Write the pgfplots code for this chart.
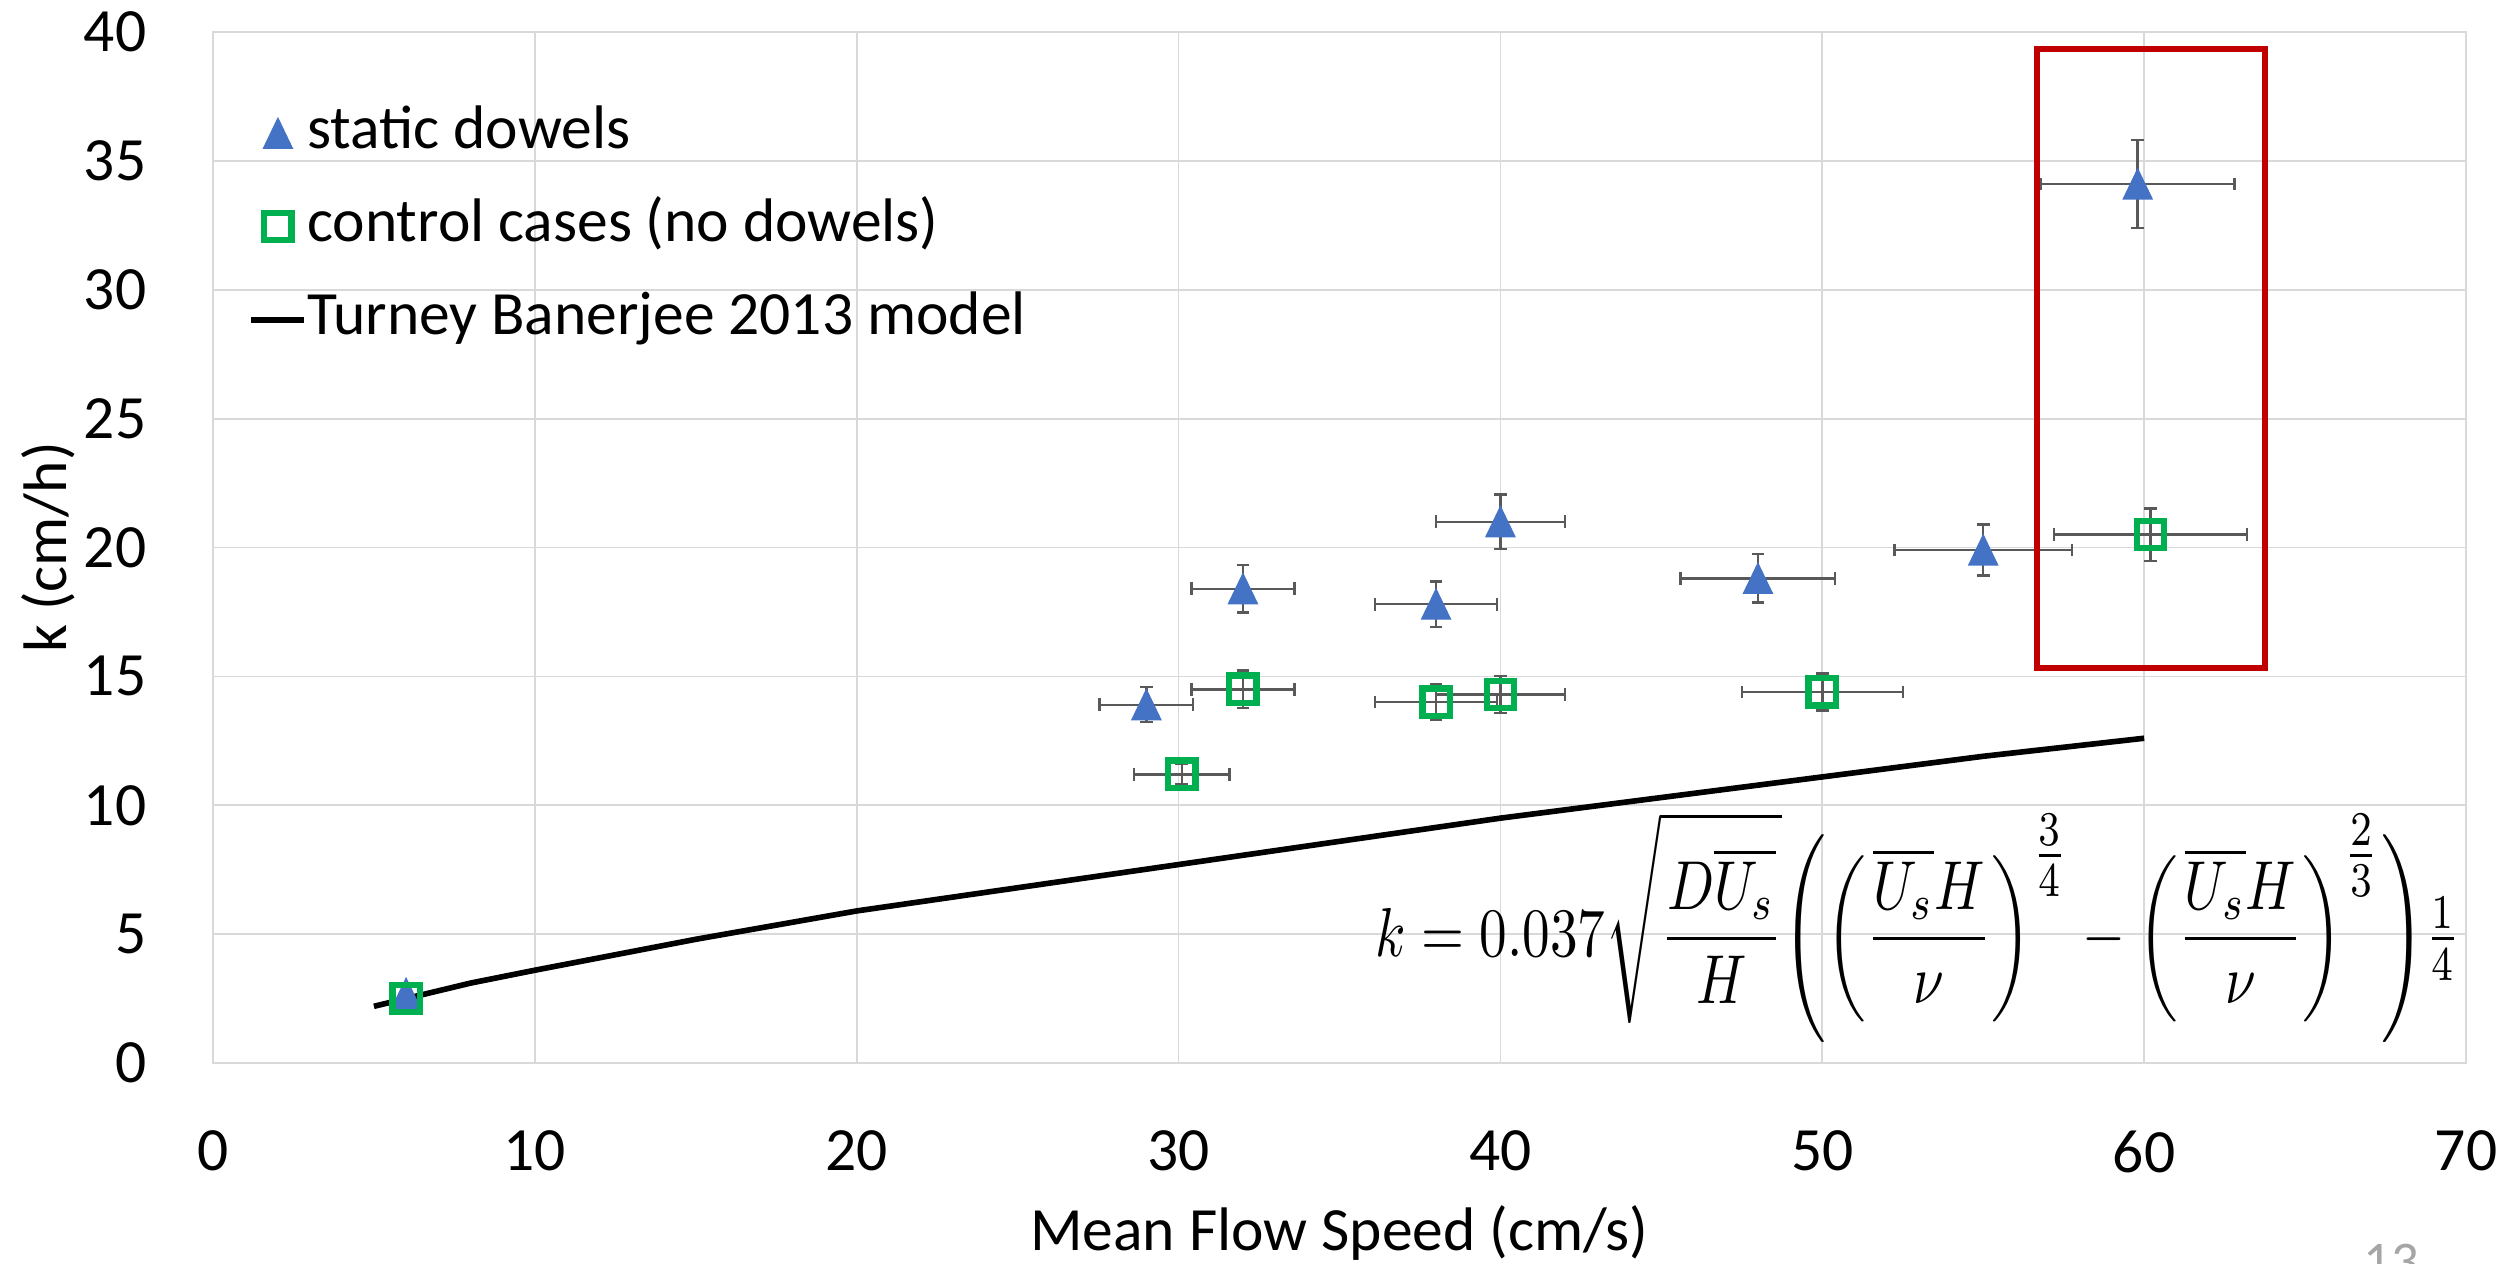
\documentclass[border=0pt]{standalone}
\usepackage{fontspec}
\setmainfont{Carlito}
\usepackage{amsmath}
\usepackage{pgfplots}
\usepackage{pgfplotstable}
\pgfplotsset{compat=1.18}
\definecolor{triblue}{HTML}{4472C4}
\definecolor{sqgreen}{HTML}{00B050}
\definecolor{errgray}{HTML}{595959}
\definecolor{gridgray}{HTML}{D9D9D9}
\definecolor{boxred}{HTML}{C00000}

\pgfplotstableread{
x y ex ey
29 13.9 1.45 0.68
32 18.4 1.6 0.92
38 17.8 1.9 0.89
40 21.0 2.0 1.05
48 18.8 2.4 0.94
55 19.9 2.75 0.99
59.8 34.1 3.0 1.7
}\staticdata
\pgfplotstableread{
x y ex ey
30.1 11.2 1.48 0.4
32 14.5 1.6 0.72
38 14.0 1.9 0.7
40 14.3 2.0 0.72
50 14.4 2.5 0.72
60.2 20.5 3.0 1.02
}\controldata

\begin{document}
\begin{tikzpicture}
\path[use as bounding box] (-2.13cm,-2.00cm) rectangle (23.01cm,10.63cm);
\begin{axis}[
  at={(0,0)}, anchor=south west,
  scale only axis, width=22.53cm, height=10.31cm,
  xmin=0, xmax=70, ymin=0, ymax=40,
  xtick={0,10,...,70}, ytick={0,5,...,40},
  grid=major, grid style={gridgray, line width=0.5pt},
  axis line style={gridgray, line width=0.5pt},
  major tick length=0pt,
  tick label style={font=\fontsize{17.5}{21}\selectfont, /pgf/number format/assume math mode=true},
  yticklabel style={anchor=east, inner sep=0pt, xshift=-0.66cm},
  xticklabel style={anchor=north, inner sep=0pt, yshift=-0.67cm},
  label style={font=\fontsize{17.5}{21}\selectfont},
  xlabel={Mean Flow Speed (cm/s)},
  ylabel={k (cm/h)},
  xlabel style={at={(axis description cs:0.5,-0.1814)}, anchor=base, inner sep=0pt},
  ylabel style={at={(axis description cs:-0.0648,0.5)}, anchor=base, inner sep=0pt},
  legend style={draw=none, fill=none, at={(axis description cs:0.0155,0.932)}, anchor=north west,
    inner sep=0pt, row sep=0.32cm, column sep=0cm, font=\fontsize{17.5}{21}\selectfont,
    nodes={inner sep=0pt, text height=13pt, text depth=4.4pt}},
  legend cell align=left,
  error bars/error bar style={errgray, line width=0.7pt},
  error bars/error mark options={errgray, rotate=90, mark size=1.8pt, line width=0.7pt},
]
% model line (drawn first, under markers)
\addplot[black, line width=1.6pt, forget plot] coordinates {
(5,2.2) (6,2.5) (8,3.1) (10,3.6) (15,4.8) (20,5.9) (25,6.8) (30,7.7)
(35,8.6) (40,9.5) (45,10.3) (50,11.1) (55,11.9) (60,12.6)};

\addplot[only marks, mark=triangle*, mark size=4.7pt,
  mark options={draw=triblue, fill=triblue, yshift=-1.4pt, yscale=1.2},
  legend image code/.code={\path[draw=none, fill=none] (0cm,0cm) -- (0.53cm,0cm);
    \draw plot coordinates {(0.265cm,0cm)};},
  error bars/.cd, x dir=both, x explicit, y dir=both, y explicit]
  table[x=x, y=y, x error=ex, y error=ey] {\staticdata};
\addlegendentry{static dowels}
\addplot[only marks, mark=triangle*, mark size=4.7pt, forget plot,
  mark options={draw=triblue, fill=triblue, yshift=-1.4pt, yscale=1.2}]
  coordinates {(6,2.7)};

\addplot[only marks, mark=square, mark size=3.9pt,
  mark options={draw=sqgreen, fill=none, line width=1.8pt, rounded corners=0.8pt},
  legend image code/.code={\path[draw=none, fill=none] (0cm,0cm) -- (0.53cm,0cm);
    \draw plot coordinates {(0.265cm,0cm)};},
  error bars/.cd, x dir=both, x explicit, y dir=both, y explicit]
  table[x=x, y=y, x error=ex, y error=ey] {\controldata};
\addlegendentry{control cases (no dowels)}
\addplot[only marks, mark=square, mark size=3.9pt, forget plot,
  mark options={draw=sqgreen, fill=none, line width=1.8pt, rounded corners=0.8pt}]
  coordinates {(6,2.5)};

\addlegendimage{black, line width=1.6pt, legend image code/.code={\draw[line width=1.6pt] (0cm,0cm) -- (0.53cm,0cm);}}
\addlegendentry{Turney Banerjee 2013 model}

\draw[boxred, line width=1.6pt] (axis cs:56.67,15.33) rectangle (axis cs:63.75,39.33);

\node[anchor=east, inner sep=0pt] at (axis cs:69.85,5.25) {\resizebox*{10.85cm}{2.3cm}{$\displaystyle k = 0.037\sqrt{\frac{D\overline{U_s}}{H}}\Biggl(\biggl(\frac{\overline{U_s}H}{\nu}\biggr)^{\tfrac{3}{4}}-\biggl(\frac{\overline{U_s}H}{\nu}\biggr)^{\tfrac{2}{3}}\Biggr)\tfrac{1}{4}$}};
\end{axis}
\node[anchor=north west, inner sep=0pt, text=gray!70, font=\fontsize{15.5}{18}\selectfont] at (21.50cm,-1.80cm) {13};
\end{tikzpicture}
\end{document}
